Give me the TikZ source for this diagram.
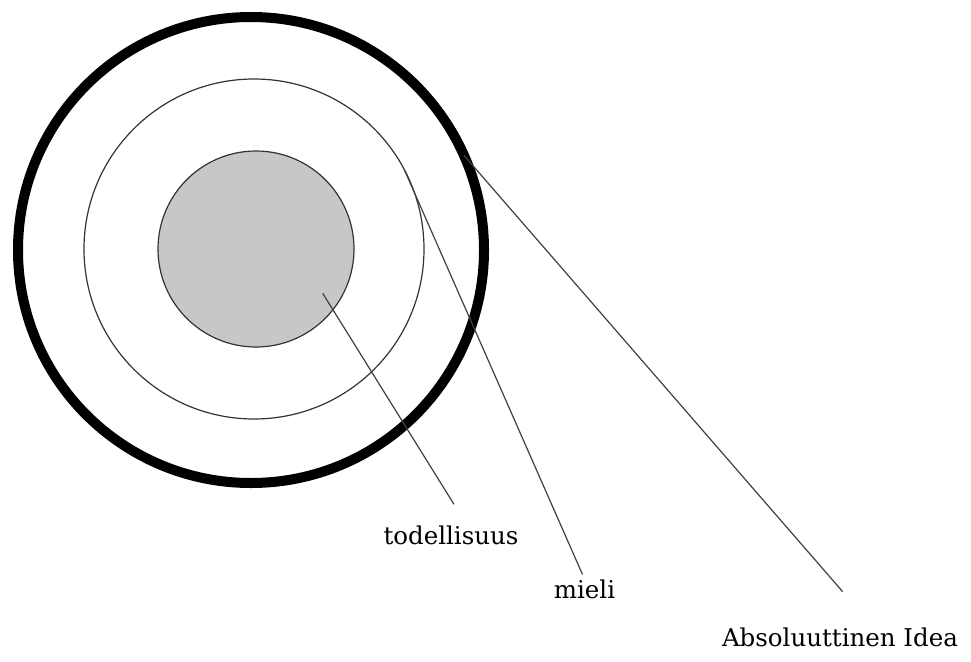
\documentclass[tikz,border=0pt]{standalone}
\usepackage{fontspec}
\setmainfont{DejaVu Serif}
\begin{document}
\begin{tikzpicture}[x=1pt,y=-1pt,
  ring/.style={circle,draw=black,inner sep=0pt,outer sep=0pt},
  leader/.style={draw=black!75,line width=1.2pt},
  lbl/.style={anchor=base,inner sep=0pt,font=\fontsize{24.5}{28}\selectfont}]
\useasboundingbox (0,0) rectangle (971,661);
\node[ring,line width=10pt,minimum size=466pt] (outer) at (251,250) {};
\node[ring,draw=black!80,line width=1.2pt,minimum size=340pt] (middle) at (254,249) {};
\node[ring,draw=black!80,fill=black!22,line width=1.2pt,minimum size=196pt] (inner) at (256,249) {};
\coordinate (p1) at (322.7,293.3);
\coordinate (e1) at (454,504.3);
\coordinate (p2) at (middle.28.4);
\coordinate (e2) at (582.5,574.5);
\coordinate (p3) at (outer.24.6);
\coordinate (e3) at (842.7,591.7);
\node[lbl] (t1) at (451,544) {todellisuus};
\node[lbl] (t2) at (584.5,598) {mieli};
\node[lbl] (t3) at (840,646.5) {Absoluuttinen Idea};
\draw[leader] (p1) -- (e1);
\draw[leader] (p2) -- (e2);
\draw[leader] (p3) -- (e3);
\end{tikzpicture}
\end{document}
